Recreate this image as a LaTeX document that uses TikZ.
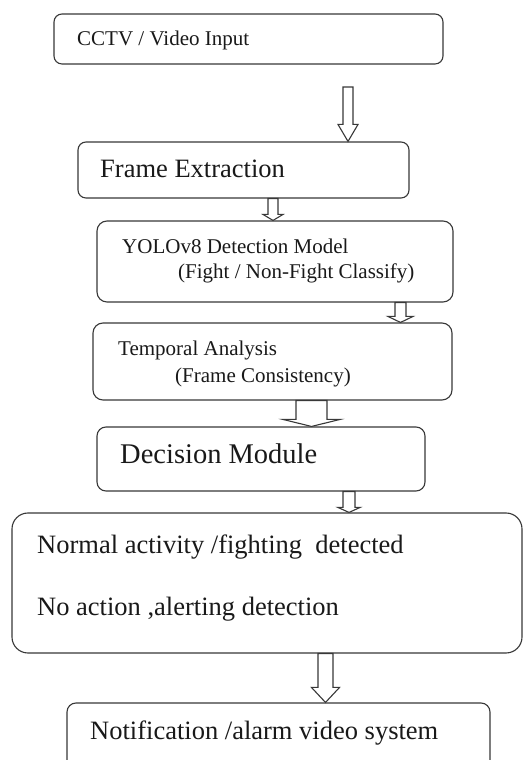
\documentclass[tikz,border=0pt]{standalone}
\usepackage{fontspec}
\setmainfont{LiberationSerif}[Extension=.ttf, UprightFont=*-Regular, BoldFont=*-Bold, ItalicFont=*-Italic, BoldItalicFont=*-BoldItalic]
\usetikzlibrary{calc}
\tikzset{
  box/.style={draw=black!78, line width=1.1pt, rounded corners=8pt, inner sep=0pt, fill=white},
  lbl/.style={anchor=base west, inner sep=0pt, text=black!90},
  small/.style={font=\fontsize{21}{25}\selectfont},
  big/.style={font=\fontsize{26.5}{30}\selectfont},
  bigger/.style={font=\fontsize{28.5}{32}\selectfont},
  arr/.style={draw=black!78, line width=1.1pt, fill=white, line join=miter}
}
% block arrow from point #1 to point #2 at x=#3, shaft half width #4, head half width #5, head length #6
\newcommand\blockarr[6]{%
  \draw[arr] let \p1=(#1), \p2=(#2) in
    ({(#3-#4)*1pt},\y1) -- ({(#3+#4)*1pt},\y1) -- ({(#3+#4)*1pt},{\y2+#6pt})
    -- ({(#3+#5)*1pt},{\y2+#6pt}) -- ({#3*1pt},\y2) -- ({(#3-#5)*1pt},{\y2+#6pt})
    -- ({(#3-#4)*1pt},{\y2+#6pt}) -- cycle;}
\begin{document}
\begin{tikzpicture}[x=1pt,y=1pt]
\clip (0,0) rectangle (529,760);
\fill[white] (0,0) rectangle (529,760);
% boxes
\node[box, minimum width=389pt, minimum height=50pt] (b1) at (248.5,721) {};
\node[box, minimum width=331pt, minimum height=56pt] (b2) at (243.5,590) {};
\node[box, minimum width=356pt, minimum height=81pt, rounded corners=10pt] (b3) at (275,498.5) {};
\node[box, minimum width=359pt, minimum height=77pt, rounded corners=10pt] (b4) at (272.5,398.5) {};
\node[box, minimum width=328pt, minimum height=64pt, rounded corners=9pt] (b5) at (261,301) {};
\node[box, minimum width=510pt, minimum height=140pt, rounded corners=16pt] (b6) at (267,177) {};
\node[box, minimum width=423pt, minimum height=77pt, rounded corners=9pt] (b7) at (278.5,18.5) {};
% texts
\node[lbl, small] (t1) at (77,714) {CCTV / Video Input};
\node[lbl, big] (t2) at (100,582) {Frame Extraction};
\node[lbl, small] (t3a) at (122,506) {YOLOv8 Detection Model};
\node[lbl, small] (t3b) at (178,481) {(Fight / Non-Fight Classify)};
\node[lbl, small] (t4a) at (118,404) {Temporal Analysis};
\node[lbl, small] (t4b) at (175,377) {(Frame Consistency)};
\node[lbl, bigger] (t5) at (120,296) {Decision Module};
\node[lbl, big] (t6a) at (37,206) {Normal activity /fighting\ \ detected};
\node[lbl, big] (t6b) at (37,144) {No action ,alerting detection};
\node[lbl, big] (t7) at (90,20) {Notification /alarm video system};
% connectors
\coordinate (a1s) at (348,673);
\blockarr{a1s}{b2.north}{348}{5}{10}{17}
\blockarr{b2.south}{b3.north}{273}{5}{10}{6}
\blockarr{b3.south}{b4.north}{400.5}{5.5}{12.5}{6}
\blockarr{b4.south}{b5.north}{311.5}{15.5}{28.5}{7}
\blockarr{b5.south}{b6.north}{349}{6}{11}{5}
\blockarr{b6.south}{b7.north}{325.5}{7.5}{14}{15}
\end{tikzpicture}
\end{document}
